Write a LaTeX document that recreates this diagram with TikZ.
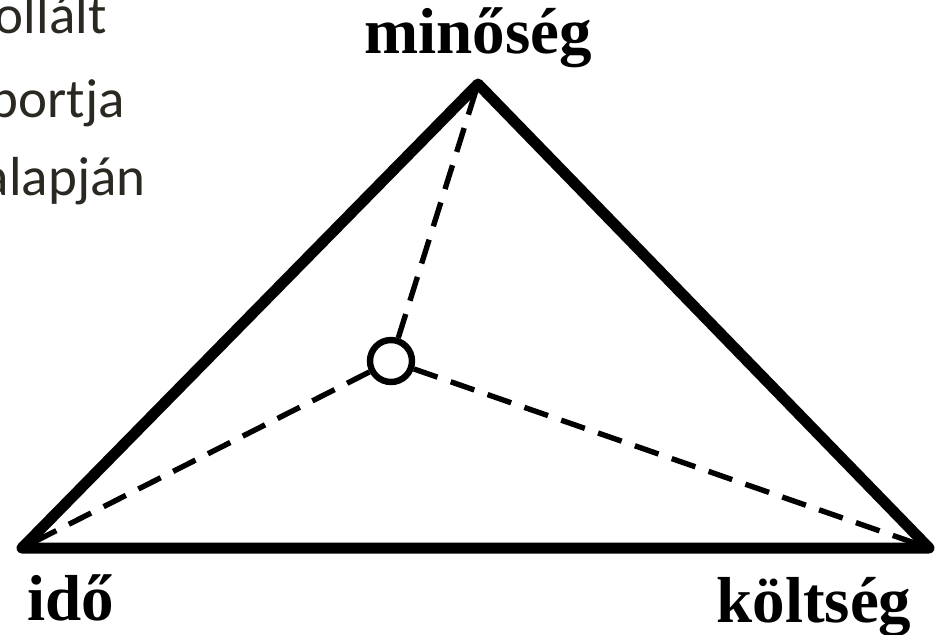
\documentclass[tikz,border=0pt]{standalone}
\usepackage{fontspec}
\setmainfont{Liberation Serif}
\newfontfamily\slidefont{Carlito}
\usepackage{xcolor}
\usetikzlibrary{positioning}
\definecolor{slidetext}{HTML}{2B2822}

\begin{document}
\begin{tikzpicture}[x=0.5pt, y=-0.5pt,
  edge/.style={line width=5.5pt, line join=round, line cap=round},
  spoke/.style={line width=2.7pt, dash pattern=on 12.5pt off 7pt},
  corner/.style={font=\bfseries\fontsize{32.5}{32.5}\selectfont, inner sep=0pt},
  slideline/.style={font=\slidefont\fontsize{27.5}{27.5}\selectfont, text=slidetext, inner sep=0pt, anchor=base east}]
  \useasboundingbox (0,0) rectangle (935,634);

  % Slide text, cut at the left edge
  \node[slideline] (line1) at (107, 33) {ollált};
  \node[slideline] (line2) at (125, 117) {portja};
  \node[slideline] (line3) at (146, 195) {alapján};

  % Triangle corners
  \coordinate (top) at (478, 84);
  \coordinate (left) at (22, 548);
  \coordinate (right) at (929, 548);
  \draw[edge] (left) -- (top) -- (right) -- cycle;

  % Centre point and dashed spokes
  \node[circle, draw, line width=3.2pt, inner sep=0pt, minimum size=21pt, fill=white] (point) at (391, 361) {};
  \draw[spoke] (point) -- (top);
  \draw[spoke] (point) -- (left);
  \draw[spoke] (point) -- (right);

  % Corner labels
  \node[corner, anchor=base] (quality) at (478, 53) {minőség};
  \node[corner, anchor=base west] (time) at (27, 620) {idő};
  \node[corner, anchor=base west] (cost) at (716, 622) {költség};
\end{tikzpicture}
\end{document}
